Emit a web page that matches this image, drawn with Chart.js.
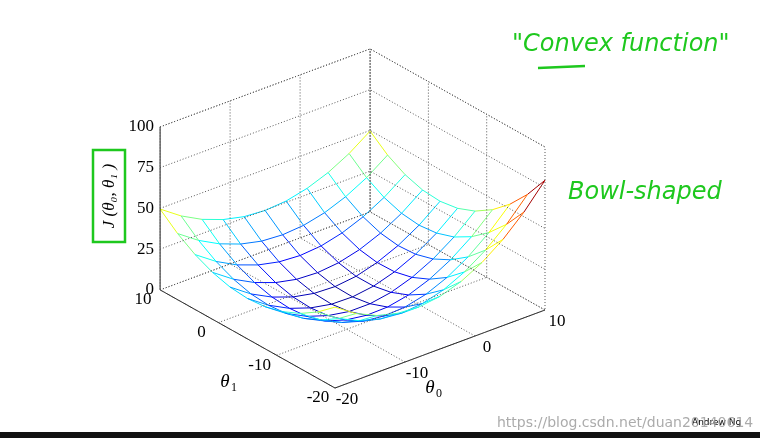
<!DOCTYPE html>
<html><head><meta charset="utf-8">
<script src="https://cdn.jsdelivr.net/npm/chart.js@4"></script>
<style>html,body{margin:0;padding:0;background:#fff}#w{width:760px;height:438px}</style>
</head><body><div id="w"><canvas id="c"></canvas></div>
<script>
const theta0 = [-20,-17,-14,-11,-8,-5,-2,1,4,7,10];
const theta1 = [-20,-17,-14,-11,-8,-5,-2,1,4,7,10];
// J values: rows = theta1 index, cols = theta0 index
const J = [
[49.6,40.9,34.9,31.5,30.6,32.3,36.6,43.5,52.9,64.9,79.6],
[40.6,31.8,25.7,22.0,20.7,21.9,25.5,31.7,40.3,51.3,64.9],
[33.7,24.9,18.6,14.6,13.0,13.7,16.8,22.3,30.1,40.3,52.9],
[28.8,19.9,13.5,9.3,7.4,7.7,10.3,15.2,22.3,31.7,43.5],
[25.8,16.9,10.3,6.0,3.7,3.7,5.9,10.3,16.8,25.5,36.6],
[24.8,15.9,9.2,4.7,2.2,1.9,3.7,7.7,13.7,21.9,32.3],
[25.8,16.8,10.1,5.4,2.8,2.2,3.7,7.4,13.0,20.7,30.6],
[28.8,19.8,13.0,8.2,5.4,4.7,6.0,9.3,14.6,22.0,31.5],
[33.7,24.7,17.8,13.0,10.1,9.2,10.3,13.5,18.6,25.7,34.9],
[40.6,31.6,24.7,19.8,16.8,15.9,16.9,19.9,24.9,31.8,40.9],
[49.6,40.6,33.7,28.8,25.8,24.8,25.8,28.8,33.7,40.6,49.6]];
const zTicks = [0,25,50,75,100];
const t0Ticks = [-20,-10,0,10];
const t1Ticks = [-20,-10,0,10];

function P(a,b,z){return {x:335+7*(a+20)-5.83*(b+20), y:388-2.6*(a+20)-3.27*(b+20)-1.63*z, z:z};}
function jet(z){const v=Math.max(0,Math.min(1,z/75));const c=t=>Math.round(255*Math.max(0,Math.min(1,1.5-Math.abs(4*v-t))));return `rgb(${c(3)},${c(2)},${c(1)})`;}
const ds=[];
function line(pts,color,dash,w){ds.push({data:pts,showLine:true,pointRadius:0,borderColor:color,borderWidth:w||1,borderDash:dash||[],fill:false});}
function mesh(pts){ds.push({data:pts,showLine:true,pointRadius:0,borderWidth:1,borderColor:'#00f',segment:{borderColor:c=>jet((c.p0.raw.z+c.p1.raw.z)/2)}});}
const dot=[1,2], g='#555';
zTicks.forEach(z=>{line([P(-20,10,z),P(10,10,z),P(10,-20,z)],g,dot);});
t0Ticks.forEach(a=>{line([P(a,-20,0),P(a,10,0),P(a,10,100)],g,dot);});
t1Ticks.forEach(b=>{line([P(-20,b,0),P(10,b,0),P(10,b,100)],g,dot);});
line([P(-20,10,100),P(10,10,100),P(10,-20,100)],g,dot);
line([P(10,10,0),P(10,10,100)],g,dot);
line([P(-20,10,0),P(-20,10,100)],'#222',[],1);
line([P(-20,10,0),P(-20,-20,0),P(10,-20,0)],'#222',[],1);
for(let i=0;i<theta1.length;i++){mesh(theta0.map((a,j)=>P(a,theta1[i],J[i][j])));}
for(let j=0;j<theta0.length;j++){mesh(theta1.map((b,i)=>P(theta0[j],b,J[i][j])));}

const deco={id:'deco',afterDraw(ch){const x=ch.ctx;x.save();
x.fillStyle='#000';x.font='17px "Liberation Serif"';x.textBaseline='middle';
x.textAlign='right';zTicks.forEach(z=>{const p=P(-20,10,z);x.fillText(String(z),p.x-6,p.y);});
x.textAlign='center';
t1Ticks.forEach(b=>{const p=P(-20,b,0);x.fillText(String(b),p.x-17,p.y+10);});
t0Ticks.forEach(a=>{const p=P(a,-20,0);x.fillText(String(a),p.x+12,p.y+12);});
x.font='italic 19px "Liberation Serif"';
x.fillText('θ',225,382);x.font='12px "Liberation Serif"';x.fillText('1',234,388);
x.font='italic 19px "Liberation Serif"';x.fillText('θ',430,388);x.font='12px "Liberation Serif"';x.fillText('0',439,394);
x.save();x.translate(110,196);x.rotate(-Math.PI/2);x.font='italic 17px "Liberation Serif"';x.fillText('J (θ₀, θ₁ )',0,0);x.restore();
x.strokeStyle='#1ec81e';x.lineWidth=2.5;x.strokeRect(93,150,32,92);
x.fillStyle='#1ec81e';x.font='italic 24px "DejaVu Sans"';x.textAlign='left';
x.fillText('"Convex function"',512,45);
x.beginPath();x.moveTo(538,68);x.lineTo(585,66);x.stroke();
x.fillText('Bowl-shaped',568,193);
x.fillStyle='#000';x.font='9px "DejaVu Sans"';x.fillText('Andrew Ng',692,423);
x.fillStyle='rgba(150,150,150,0.8)';x.font='14px "DejaVu Sans"';x.fillText('https://blog.csdn.net/duan20140614',497,423);
x.fillStyle='#111';x.fillRect(0,432,760,6);
x.restore();}};
new Chart(document.getElementById('c'),{type:'scatter',data:{datasets:ds},plugins:[deco],
options:{responsive:true,maintainAspectRatio:false,animation:false,layout:{padding:0},
plugins:{legend:{display:false},tooltip:{enabled:false}},
scales:{x:{type:'linear',min:0,max:760,display:false},y:{type:'linear',min:0,max:438,reverse:true,display:false}}}});
</script></body></html>
